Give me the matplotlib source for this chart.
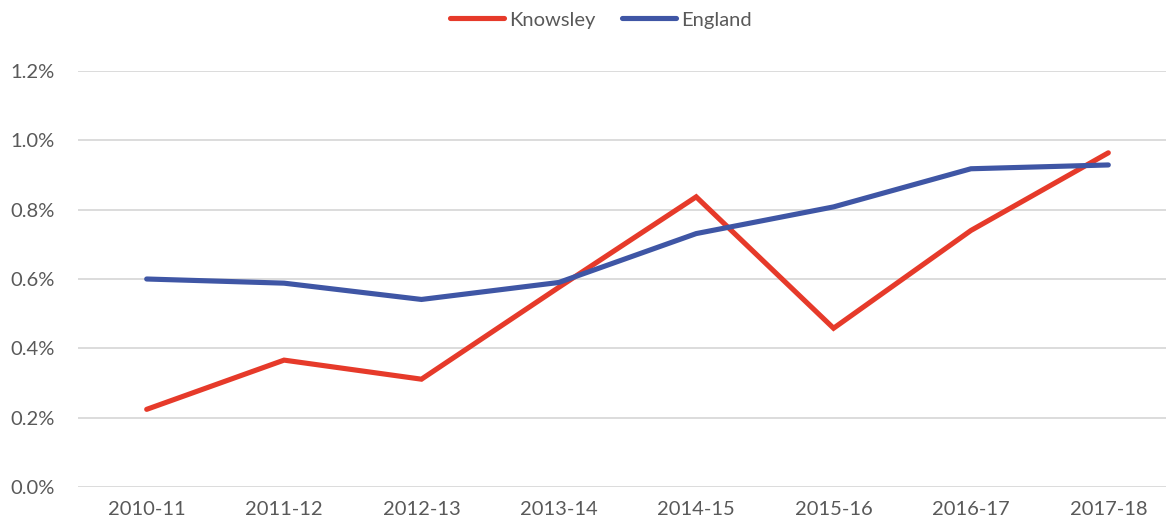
import matplotlib
matplotlib.use("Agg")
import matplotlib.pyplot as plt
from matplotlib.ticker import FuncFormatter

years = ["2010-11", "2011-12", "2012-13", "2013-14", "2014-15", "2015-16", "2016-17", "2017-18"]
knowsley = [0.224, 0.366, 0.311, 0.576, 0.837, 0.458, 0.740, 0.964]
england = [0.600, 0.588, 0.541, 0.590, 0.731, 0.808, 0.918, 0.929]
y_ticks = [0.0, 0.2, 0.4, 0.6, 0.8, 1.0, 1.2]

plt.rcParams['font.family'] = ['Lato', 'DejaVu Sans']
text_color = '#595959'

fig = plt.figure(figsize=(11.66, 5.30), dpi=100)
ax = fig.add_axes([78/1166, 43/530, 1099/1166, 416/530])

x = list(range(len(years)))
l1, = ax.plot(x, knowsley, color='#E63A2A', lw=3.7, solid_capstyle='round', solid_joinstyle='miter', label='Knowsley', zorder=3)
l2, = ax.plot(x, england, color='#3F56A5', lw=3.7, solid_capstyle='round', solid_joinstyle='miter', label='England', zorder=3)

ax.set_xlim(-0.5, len(years) - 0.5)
ax.set_ylim(0, 1.2)
ax.set_yticks(y_ticks)
ax.yaxis.set_major_formatter(FuncFormatter(lambda v, p: f"{v:.1f}%"))
ax.set_xticks(x)
ax.set_xticklabels(years)
ax.grid(axis='y', color='#D9D9D9', lw=1.3, zorder=0)
ax.set_axisbelow(True)
for s in ax.spines.values():
    s.set_visible(False)
ax.tick_params(axis='both', length=0, labelsize=14.5, colors=text_color)
ax.tick_params(axis='y', pad=17)
ax.tick_params(axis='x', pad=10)

fig.legend(handles=[l1, l2], loc='center', bbox_to_anchor=(601/1166, 1 - 20/530), ncol=2,
           frameon=False, fontsize=14.5, labelcolor=text_color, handlelength=2.7,
           handletextpad=0.25, columnspacing=1.3, borderaxespad=0, borderpad=0)

fig.savefig("out.png", dpi=100)
